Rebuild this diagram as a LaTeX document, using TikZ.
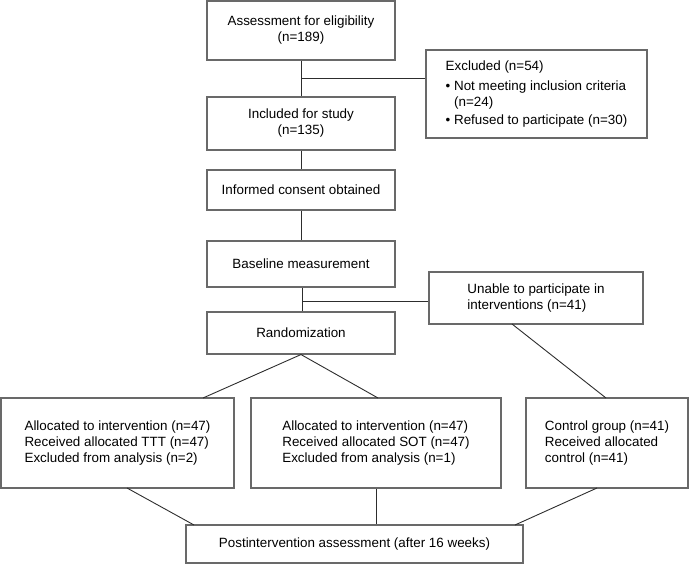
\documentclass[tikz,border=0pt]{standalone}
\usepackage{fontspec}
\setmainfont{Liberation Sans}
\definecolor{boxgray}{RGB}{105,105,105}
\definecolor{linegray}{RGB}{45,45,45}
\begin{document}
\begin{tikzpicture}[x=1pt,y=-1pt,
  box/.style={draw=boxgray,line width=1.1pt,rectangle,inner sep=0pt,
              font=\fontsize{13.4}{16}\selectfont},
  link/.style={draw=linegray,line width=0.9pt}]
\useasboundingbox (0,0) rectangle (689,564);
% main column
\node[box,align=center,minimum width=188,minimum height=59] (b1) at (301,30.5) {Assessment for eligibility\\(n=189)};
\node[box,align=center,minimum width=188,minimum height=53] (b2) at (301,123.5) {Included for study\\(n=135)};
\node[box,align=center,minimum width=188,minimum height=40] (b3) at (301,190) {Informed consent obtained};
\node[box,align=center,minimum width=188,minimum height=46] (b4) at (301,264) {Baseline measurement};
\node[box,align=center,minimum width=188,minimum height=42] (b5) at (301,333) {Randomization};
% side boxes
\node[box,align=left,minimum width=221,minimum height=88] (excl) at (536.5,94)
  {Excluded (n=54)\\[4pt]
   \textbullet\ Not meeting inclusion criteria\\
   \hphantom{\textbullet\ }(n=24)\\[2pt]
   \textbullet\ Refused to participate (n=30)};
\node[box,align=left,minimum width=214,minimum height=52] (unable) at (536,298)
  {Unable to participate in\\interventions (n=41)};
% groups
\node[box,align=left,minimum width=233,minimum height=90] (ga) at (117.5,443)
  {Allocated to intervention (n=47)\\Received allocated TTT (n=47)\\Excluded from analysis (n=2)};
\node[box,align=left,minimum width=250,minimum height=90] (gb) at (376,443)
  {Allocated to intervention (n=47)\\Received allocated SOT (n=47)\\Excluded from analysis (n=1)};
\node[box,align=left,minimum width=162,minimum height=90] (gc) at (607,443)
  {Control group (n=41)\\Received allocated\\control (n=41)};
\node[box,align=center,minimum width=337,minimum height=38] (post) at (354.5,544)
  {Postintervention assessment (after 16 weeks)};
% junction coordinates
\coordinate (j1) at (b1.south |- 0,78);
\coordinate (j2) at (302,301);
\coordinate (ra) at (203,398);
\coordinate (rb) at (378,398);
\coordinate (uc) at (512,324);
\coordinate (ct) at (606,398);
\coordinate (pa) at (127,488);
\coordinate (qa) at (194,525);
\coordinate (pc) at (597,488);
\coordinate (qc) at (515,525);
% connectors
\draw[link] (b1.south) -- (b2.north);
\draw[link] (j1) -- (j1 -| excl.west);
\draw[link] (b2.south) -- (b3.north);
\draw[link] (b3.south) -- (b4.north);
\draw[link] (b4.south -| j2) -- (b5.north -| j2);
\draw[link] (j2) -- (j2 -| unable.west);
\draw[link] (b5.south) -- (ra);
\draw[link] (b5.south) -- (rb);
\draw[link] (uc) -- (ct);
\draw[link] (pa) -- (qa);
\draw[link] (gb.south) -- (post.north -| gb.south);
\draw[link] (pc) -- (qc);
\end{tikzpicture}
\end{document}
